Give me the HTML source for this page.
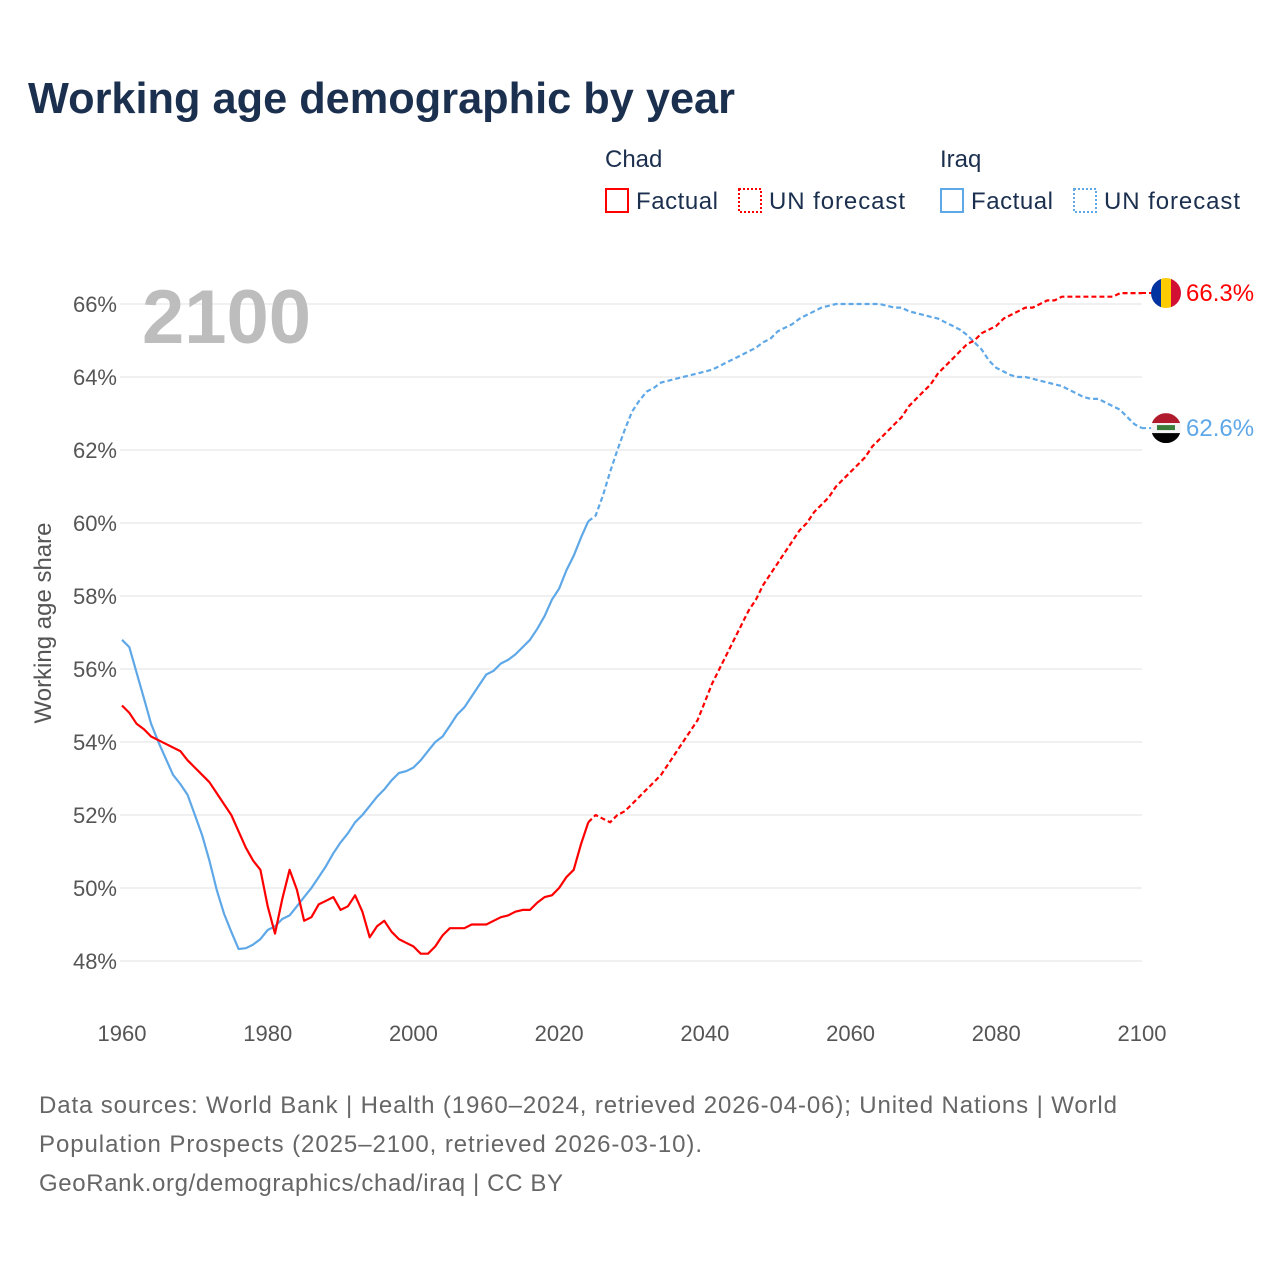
<!DOCTYPE html>
<html><head><meta charset="utf-8"><style>
body{margin:0;background:#fff;width:1280px;height:1280px;overflow:hidden;font-family:"Liberation Sans",sans-serif}
</style></head><body>
<svg width="1280" height="1280" xmlns="http://www.w3.org/2000/svg">
<text x="28" y="113" font-size="44" font-weight="bold" fill="#1b2f4e" textLength="707" lengthAdjust="spacingAndGlyphs">Working age demographic by year</text>
<g font-size="24" fill="#1b2f4e">
<text x="605" y="167">Chad</text>
<rect x="606" y="189" width="22" height="23" fill="none" stroke="#f00" stroke-width="2"/>
<text x="636" y="209" textLength="82">Factual</text>
<rect x="739" y="189" width="22" height="23" fill="none" stroke="#f00" stroke-width="2" stroke-dasharray="2,2"/>
<text x="769" y="209" textLength="136">UN forecast</text>
<text x="940" y="167">Iraq</text>
<rect x="941" y="189" width="22" height="23" fill="none" stroke="#5fa8e8" stroke-width="2"/>
<text x="971" y="209" textLength="82">Factual</text>
<rect x="1074" y="189" width="22" height="23" fill="none" stroke="#5fa8e8" stroke-width="2" stroke-dasharray="2,2"/>
<text x="1104" y="209" textLength="136">UN forecast</text>
</g>
<g id="grid"></g>
<text x="142" y="343" font-size="76" font-weight="bold" fill="#bdbdbd">2100</text>
<text transform="translate(51,623) rotate(-90)" text-anchor="middle" font-size="24" fill="#555">Working age share</text>
<g id="marks"></g>
<g font-size="24" fill="#666">
<text x="39" y="1113" textLength="1078">Data sources: World Bank | Health (1960–2024, retrieved 2026-04-06); United Nations | World</text>
<text x="39" y="1152" textLength="663">Population Prospects (2025–2100, retrieved 2026-03-10).</text>
<text x="39" y="1191" textLength="524">GeoRank.org/demographics/chad/iraq | CC BY</text>
</g>
</svg>
<script>
const yTicks=[48,50,52,54,56,58,60,62,64,66];
const xTicks=[1960,1980,2000,2020,2040,2060,2080,2100];
const chadFactual=[55.0,54.8,54.5,54.35,54.15,54.05,53.95,53.85,53.75,53.5,53.3,53.1,52.9,52.6,52.3,52.0,51.55,51.1,50.75,50.5,49.5,48.75,49.7,50.5,49.95,49.1,49.2,49.55,49.65,49.75,49.4,49.5,49.8,49.35,48.65,48.95,49.1,48.8,48.6,48.5,48.4,48.2,48.2,48.4,48.7,48.9,48.9,48.9,49.0,49.0,49.0,49.1,49.2,49.25,49.35,49.4,49.4,49.6,49.75,49.8,50.0,50.3,50.5,51.2,51.8];
const chadForecast=[52.0,51.9,51.8,52.0,52.1,52.3,52.5,52.7,52.9,53.1,53.4,53.7,54.0,54.3,54.6,55.1,55.6,56.0,56.4,56.8,57.2,57.6,57.9,58.3,58.6,58.9,59.2,59.5,59.8,60.0,60.3,60.5,60.7,61.0,61.2,61.4,61.6,61.8,62.1,62.3,62.5,62.7,62.9,63.2,63.4,63.6,63.8,64.1,64.3,64.5,64.7,64.9,65.0,65.2,65.3,65.4,65.6,65.7,65.8,65.9,65.9,66.0,66.1,66.1,66.2,66.2,66.2,66.2,66.2,66.2,66.2,66.2,66.3,66.3,66.3,66.3];
const iraqFactual=[56.8,56.6,55.9,55.2,54.5,54.0,53.55,53.1,52.85,52.55,52.0,51.45,50.75,49.95,49.3,48.8,48.33,48.35,48.45,48.6,48.85,48.95,49.15,49.25,49.5,49.75,50.0,50.3,50.6,50.95,51.25,51.5,51.8,52.0,52.25,52.5,52.7,52.95,53.15,53.2,53.3,53.5,53.75,54.0,54.15,54.45,54.75,54.95,55.25,55.55,55.85,55.95,56.15,56.25,56.4,56.6,56.8,57.1,57.45,57.9,58.2,58.7,59.1,59.6,60.05];
const iraqForecast=[60.2,60.75,61.4,62.0,62.55,63.05,63.35,63.6,63.7,63.85,63.9,63.95,64.0,64.05,64.1,64.15,64.2,64.3,64.4,64.5,64.6,64.7,64.8,64.95,65.05,65.25,65.35,65.45,65.6,65.7,65.8,65.9,65.95,66.0,66.0,66.0,66.0,66.0,66.0,66.0,65.95,65.9,65.9,65.8,65.75,65.7,65.65,65.6,65.5,65.4,65.3,65.15,64.95,64.75,64.45,64.25,64.15,64.05,64.0,64.0,63.95,63.9,63.85,63.8,63.75,63.65,63.55,63.45,63.4,63.4,63.3,63.2,63.1,62.9,62.7,62.6];
const NS='http://www.w3.org/2000/svg';
const xS=y=>122+(y-1960)*(1020/140);
const yS=v=>304+(66-v)*36.5;
const grid=document.getElementById('grid'),marks=document.getElementById('marks');
function mk(tag,attrs,parent){const e=document.createElementNS(NS,tag);for(const k in attrs)e.setAttribute(k,attrs[k]);parent.appendChild(e);return e;}
yTicks.forEach(t=>{
  const l=mk('line',{x1:120,x2:1142,y1:yS(t),y2:yS(t),stroke:'#e6e6e6','stroke-width':1.3},grid);
  
  
  const tx=mk('text',{x:117,y:yS(t)+8,'text-anchor':'end','font-size':22,fill:'#555'},grid);
  tx.textContent=t+'%';
  
  
});
xTicks.forEach(t=>{
  const tx=mk('text',{x:xS(t),y:1041,'text-anchor':'middle','font-size':22,fill:'#555'},grid);
  tx.textContent=t;
  
  
});
function line(vals,start,color,dash,name,prev){
  let pts=vals.map((v,i)=>xS(start+i).toFixed(1)+','+yS(v).toFixed(1));
  if(prev!=null)pts.unshift(xS(start-1).toFixed(1)+','+yS(prev).toFixed(1));
  const p=mk('polyline',{points:pts.join(' '),fill:'none',stroke:color,'stroke-width':2.2,'stroke-linejoin':'round'},marks);
  if(dash)p.setAttribute('stroke-dasharray','5,3');
  
  
}
line(iraqFactual,1960,'#5fa8e8',false,'iraq-factual-line');
line(iraqForecast,2025,'#5fa8e8',true,'iraq-forecast-line',iraqFactual[iraqFactual.length-1]);
line(chadFactual,1960,'#f00',false,'chad-factual-line');
line(chadForecast,2025,'#f00',true,'chad-forecast-line',chadFactual[chadFactual.length-1]);
function endLabel(val,color,name,flag){
  const y=yS(val);
  const c=mk('line',{x1:1142,x2:1152,y1:y,y2:y,stroke:color,'stroke-width':2,'stroke-dasharray':'4,3'},marks);
  
  
  const g=mk('g',{},marks);
  
  
  const id='clip'+name;
  const cp=mk('clipPath',{id:id},g);mk('circle',{cx:1166,cy:y,r:15},cp);
  const gg=mk('g',{'clip-path':'url(#'+id+')'},g);
  flag(gg,y);
  const t=mk('text',{x:1186,y:y+8,'font-size':24,fill:color},marks);
  t.textContent=val.toFixed(1)+'%';
  
  
}
endLabel(chadForecast[chadForecast.length-1],'#f00','chad',(g,y)=>{
  mk('rect',{x:1151,y:y-15,width:10,height:30,fill:'#0033a0'},g);
  mk('rect',{x:1161,y:y-15,width:10,height:30,fill:'#fecb00'},g);
  mk('rect',{x:1171,y:y-15,width:10,height:30,fill:'#d21034'},g);
});
endLabel(iraqForecast[iraqForecast.length-1],'#5fa8e8','iraq',(g,y)=>{
  mk('rect',{x:1151,y:y-15,width:30,height:10,fill:'#b01c2e'},g);
  mk('rect',{x:1151,y:y-5,width:30,height:10,fill:'#f4f4f4'},g);
  mk('rect',{x:1151,y:y+5,width:30,height:10,fill:'#000'},g);
  mk('rect',{x:1157,y:y-3,width:18,height:5,fill:'#3a7d3a'},g);
});
</script>
</body></html>
